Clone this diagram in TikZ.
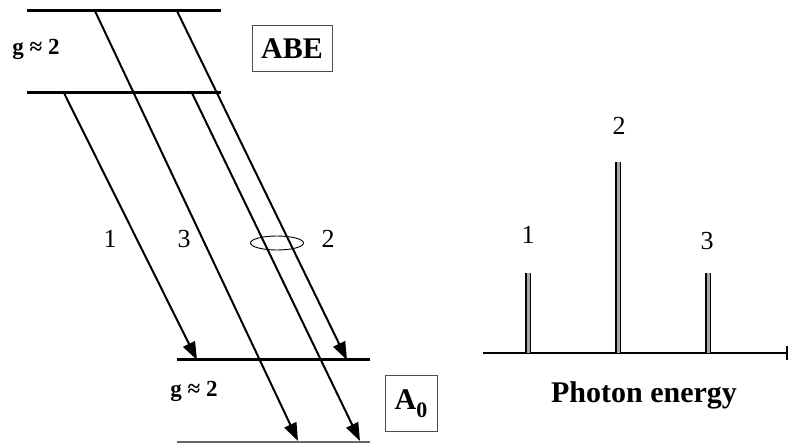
\documentclass[tikz,border=0pt]{standalone}
\usepackage{fontspec}
\setmainfont{Liberation Serif}
\usetikzlibrary{arrows.meta,shapes.geometric}
\tikzset{
  level/.style={line width=3pt},
  trans/.style={line width=2pt,-{Triangle[length=18pt,width=13pt]}},
  digit/.style={font=\fontsize{26}{28}\selectfont, anchor=base, inner sep=0pt},
  glabel/.style={font=\fontsize{23}{25}\selectfont\bfseries, anchor=base, inner sep=0pt},
  boxlabel/.style={draw=black!70, line width=1pt, font=\fontsize{30}{32}\selectfont\bfseries, inner sep=0pt},
  bar/.style={line width=1.8pt, double=black!35, double distance=3pt}
}
\begin{document}
\begin{tikzpicture}[x=1pt,y=-1pt]
\useasboundingbox (0,0) rectangle (788,443);
% energy levels
\coordinate (l1a) at (27,11);  \coordinate (l1b) at (221,11);
\coordinate (l2a) at (27,93);  \coordinate (l2b) at (221,93);
\coordinate (l3a) at (177,360); \coordinate (l3b) at (370,360);
\coordinate (l4a) at (177,442); \coordinate (l4b) at (370,442);
\draw[level] (l1a) -- (l1b);
\draw[level] (l2a) -- (l2b);
\draw[level] (l3a) -- (l3b);
\draw[line width=1.2pt, black!60] (l4a) -- (l4b);
% transitions
\coordinate (s1) at (64,93);   \coordinate (e1) at (197,360);
\coordinate (s3) at (95,11);   \coordinate (e3) at (298,441);
\coordinate (s2a) at (177,11); \coordinate (e2a) at (347,360);
\coordinate (s2b) at (192,93); \coordinate (e2b) at (360,441);
\draw[trans] (s1) -- (e1);
\draw[trans] (s3) -- (e3);
\draw[trans] (s2a) -- (e2a);
\draw[trans] (s2b) -- (e2b);
\node[draw, ellipse, line width=0.9pt, minimum width=53pt, minimum height=14pt, inner sep=0pt] (ell) at (277,243) {};
% labels
\node[digit] (t1) at (110,248) {1};
\node[digit] (t3) at (184,248) {3};
\node[digit] (t2) at (328,248) {2};
\node[glabel] (gup) at (36,55) {g ≈ 2};
\node[glabel] (gdn) at (194,397) {g ≈ 2};
\node[boxlabel, minimum width=80pt, minimum height=46pt] (abe) at (292,49) {ABE};
\node[boxlabel, minimum width=52pt, minimum height=56pt] (a0) at (411,404) {A\raisebox{-0.28em}{\fontsize{22}{24}\selectfont 0}};
% spectrum
\coordinate (ax0) at (483,353); \coordinate (ax1) at (787,353);
\coordinate (tk0) at (787,346); \coordinate (tk1) at (787,360);
\draw[line width=1.6pt] (ax0) -- (ax1);
\draw[line width=1.6pt] (tk0) -- (tk1);
\coordinate (b1a) at (528,353); \coordinate (b1b) at (528,273);
\coordinate (b2a) at (618,353); \coordinate (b2b) at (618,162);
\coordinate (b3a) at (708,353); \coordinate (b3b) at (708,273);
\draw[bar] (b1a) -- (b1b);
\draw[bar] (b2a) -- (b2b);
\draw[bar] (b3a) -- (b3b);
\node[digit] (p1) at (528,244) {1};
\node[digit] (p2) at (619,135) {2};
\node[digit] (p3) at (707,250) {3};
\node[font=\fontsize{30}{32}\selectfont\bfseries, anchor=base, inner sep=0pt] (pe) at (644,403) {Photon energy};
\end{tikzpicture}
\end{document}
